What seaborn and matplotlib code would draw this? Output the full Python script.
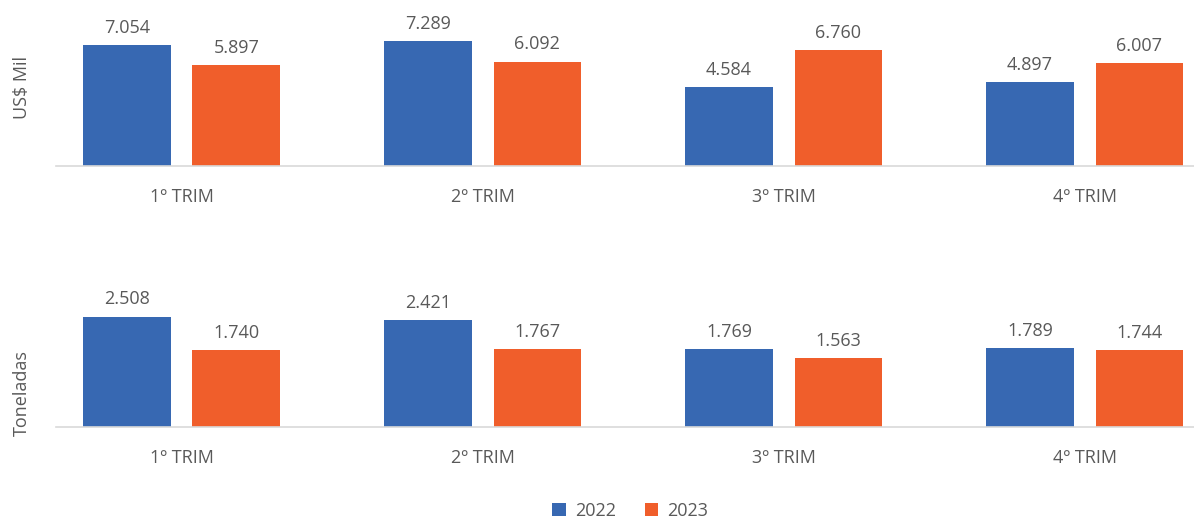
import matplotlib
matplotlib.use("Agg")
import matplotlib.pyplot as plt
import seaborn as sns
import pandas as pd

quarters = ["1º TRIM", "2º TRIM", "3º TRIM", "4º TRIM"]
years = ["2022", "2023"]
usd_2022 = [7054, 7289, 4584, 4897]
usd_2023 = [5897, 6092, 6760, 6007]
ton_2022 = [2508, 2421, 1769, 1789]
ton_2023 = [1740, 1767, 1563, 1744]

colors = {"2022": "#3768B2", "2023": "#F05E2B"}
text_color = "#595959"

sns.set_theme(style="white")
plt.rcParams["font.family"] = ["Open Sans", "DejaVu Sans"]


def make_df(v22, v23):
    return pd.DataFrame({
        "Trimestre": quarters * 2,
        "Ano": [years[0]] * 4 + [years[1]] * 4,
        "Valor": list(v22) + list(v23),
    })


def fmt(v):
    return f"{v:,.0f}".replace(",", ".")


fig = plt.figure(figsize=(11.94, 5.18), dpi=100)
ax1 = fig.add_axes([56 / 1194, 1 - 166 / 518, 1 - 56 / 1194, 137 / 518])
ax2 = fig.add_axes([56 / 1194, 1 - 427 / 518, 1 - 56 / 1194, 132 / 518])

panels = [
    (ax1, make_df(usd_2022, usd_2023), "US$ Mil", 8000, 0.57),
    (ax2, make_df(ton_2022, ton_2023), "Toneladas", 3000, 0.26),
]

for ax, df, ylabel, ymax, ypos in panels:
    sns.barplot(data=df, x="Trimestre", y="Valor", hue="Ano", palette=colors,
                width=0.727, gap=0.2, ax=ax, legend=True, saturation=1,
                linewidth=0)
    for cont in ax.containers:
        ax.bar_label(cont, labels=[fmt(v) for v in cont.datavalues],
                     padding=6, fontsize=13, color=text_color)
    ax.set_ylim(0, ymax)
    ax.set_xlim(-0.417, 3.363)
    ax.set_yticks([])
    ax.set_xlabel("")
    ax.set_ylabel(ylabel, fontsize=13, color=text_color)
    ax.yaxis.set_label_coords(-0.022, ypos)
    for s in ["top", "right", "left"]:
        ax.spines[s].set_visible(False)
    ax.spines["bottom"].set_color("#D9D9D9")
    ax.spines["bottom"].set_linewidth(1.2)
    ax.tick_params(axis="x", length=0, pad=16, labelsize=13, labelcolor=text_color)

handles, labels = ax1.get_legend_handles_labels()
ax1.get_legend().remove()
ax2.get_legend().remove()
fig.legend(handles, labels, loc="lower center", bbox_to_anchor=(0.528, -0.035),
           ncol=2, frameon=False, fontsize=13, labelcolor=text_color,
           handlelength=0.75, handleheight=0.75, handletextpad=0.5,
           columnspacing=1.6)

fig.savefig("out.png", dpi=100)
